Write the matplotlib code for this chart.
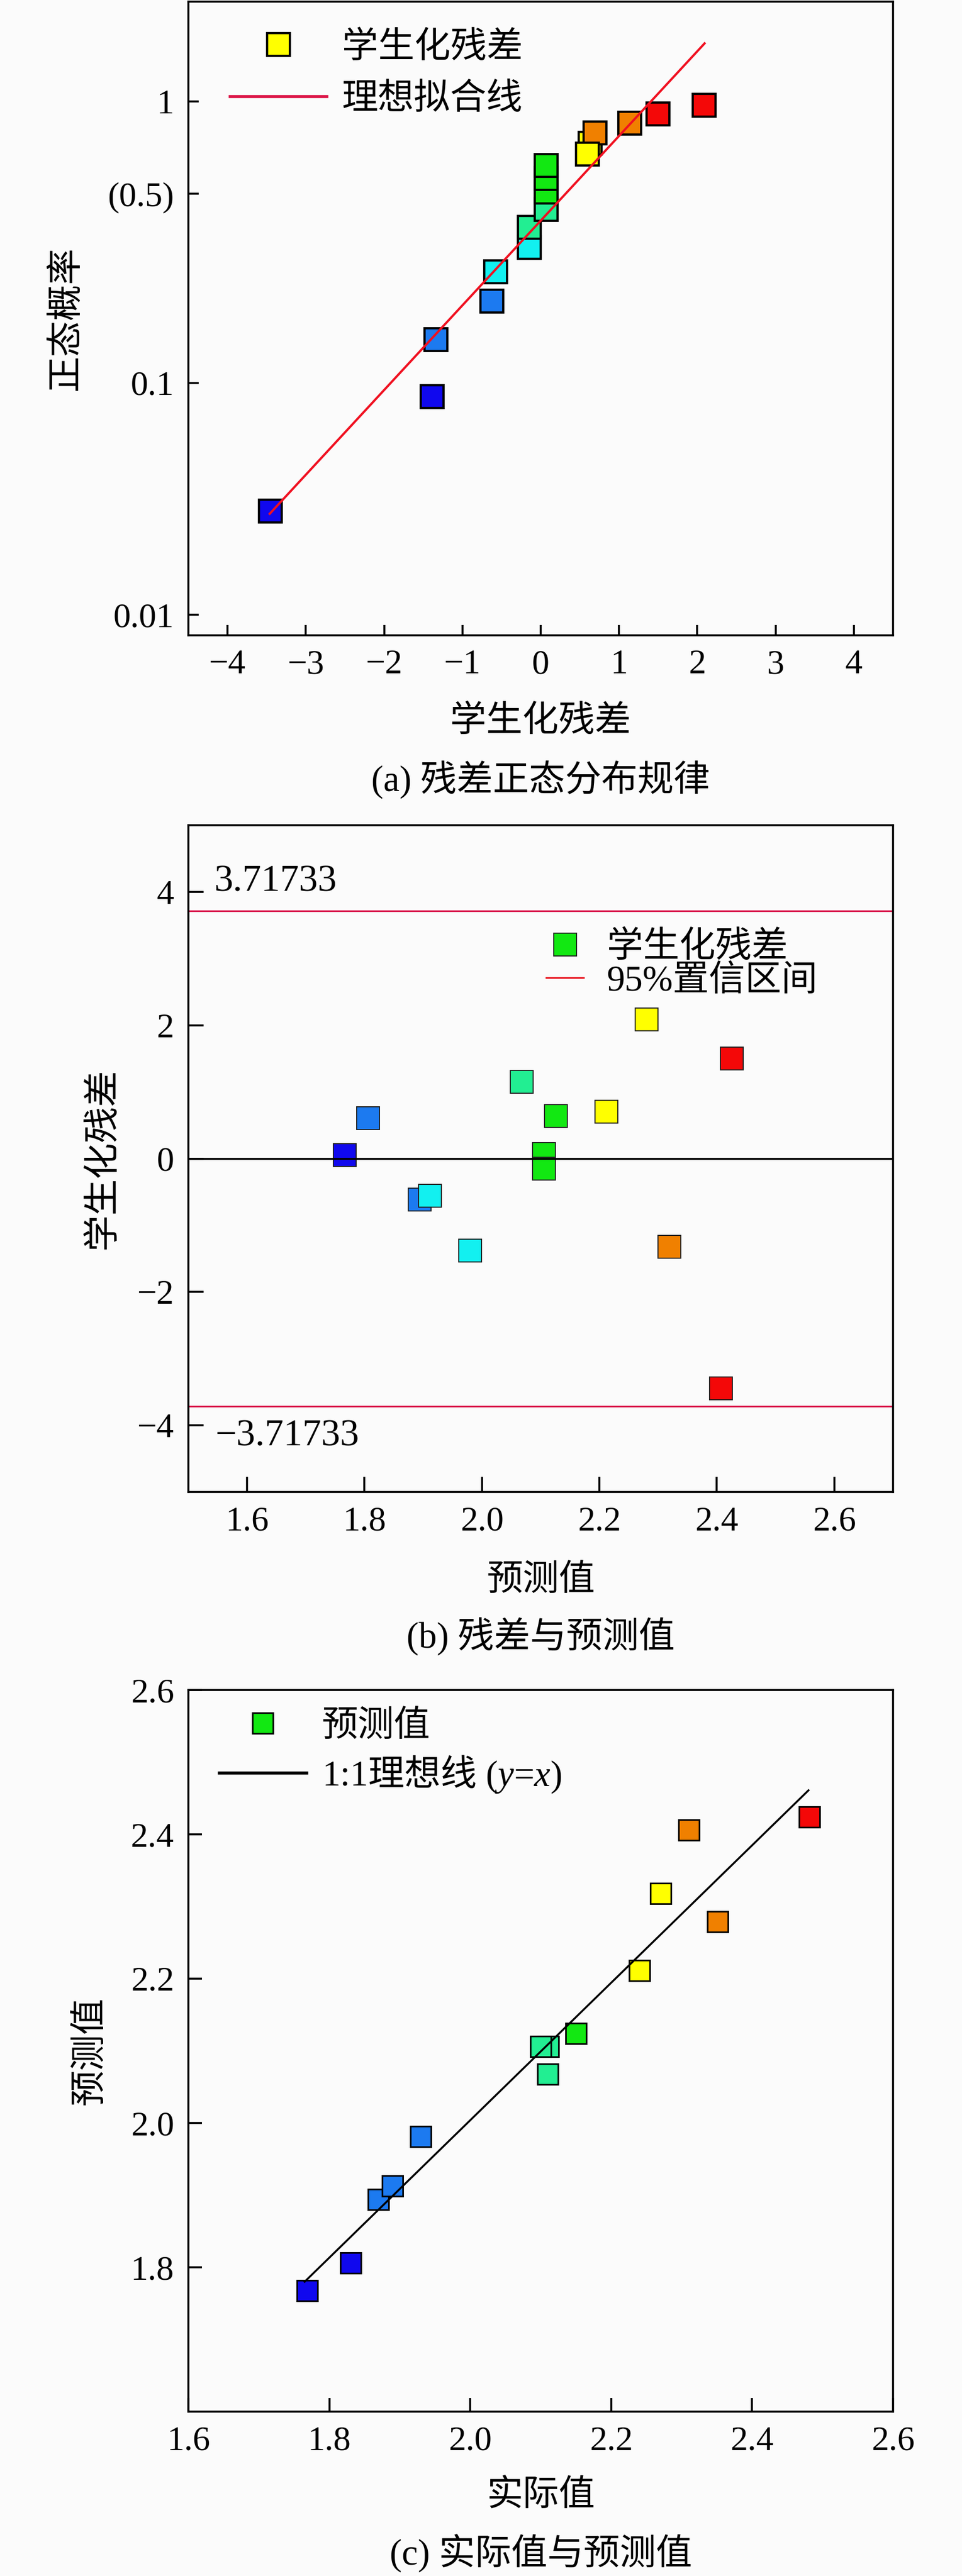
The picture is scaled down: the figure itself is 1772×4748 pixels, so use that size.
import matplotlib
matplotlib.use("Agg")
import matplotlib.pyplot as plt
from matplotlib.lines import Line2D

plt.rcParams['font.family'] = ['Liberation Serif', 'Noto Sans CJK SC']
plt.rcParams['mathtext.fontset'] = 'custom'
plt.rcParams['mathtext.it'] = 'Liberation Serif:italic'
plt.rcParams['mathtext.rm'] = 'Liberation Serif'
plt.rcParams['axes.unicode_minus'] = True

# colour palette
BLUE = '#1008ee'
AZURE = '#1c7af0'
CYAN = '#12f0f0'
TEAL = '#22ee92'
GREEN = '#12e812'
YELLOW = '#ffff00'
ORANGE = '#f08000'
RED = '#f40808'

# ==== (a) normal probability of studentized residuals ====
a_resid = [-3.454, -1.390, -1.335, -0.622, -0.573, -0.144, -0.144, 0.071, 0.071,
           0.071, 0.071, 0.632, 0.694, 0.597, 1.137, 1.497, 2.086]
a_score = [-3.429, -2.078, -1.405, -0.950, -0.604, -0.316, -0.079, 0.133, 0.338,
           0.498, 0.652, 0.914, 1.036, 0.786, 1.151, 1.260, 1.363]
a_colors = [BLUE, BLUE, AZURE, AZURE, CYAN, CYAN, TEAL, TEAL, GREEN, GREEN, GREEN,
            YELLOW, ORANGE, YELLOW, ORANGE, RED, RED]
a_fit_x = [-3.461, 2.093]
a_fit_y = [-3.461, 2.093]
a_xticks = [-4, -3, -2, -1, 0, 1, 2, 3, 4]
a_yticks = [1.407, 0.318, -1.917, -4.653]
a_yticklabels = ['1', '(0.5)', '0.1', '0.01']

# ==== (b) residual vs predicted ====
b_pred = [1.766, 1.806, 1.894, 1.911, 1.980, 2.068, 2.126, 2.106, 2.106, 2.212,
          2.280, 2.319, 2.425, 2.407]
b_resid = [0.050, 0.606, -0.614, -0.556, -1.378, 1.154, 0.639, 0.066, -0.149,
           0.705, 2.091, -1.320, 1.502, -3.444]
b_colors = [BLUE, AZURE, AZURE, CYAN, CYAN, TEAL, GREEN, GREEN, GREEN, YELLOW,
            YELLOW, ORANGE, RED, RED]
b_limit = 3.71733
b_xticks = [1.6, 1.8, 2.0, 2.2, 2.4, 2.6]
b_yticks = [-4, -2, 0, 2, 4]

# ==== (c) actual vs predicted ====
c_actual = [1.769, 1.830, 1.870, 1.890, 1.930, 2.111, 2.100, 2.110, 2.150, 2.240,
            2.270, 2.310, 2.351, 2.481]
c_pred = [1.768, 1.806, 1.894, 1.913, 1.981, 2.106, 2.106, 2.068, 2.124, 2.211,
          2.318, 2.406, 2.279, 2.424]
c_colors = [BLUE, BLUE, AZURE, AZURE, AZURE, TEAL, TEAL, TEAL, GREEN, YELLOW,
            YELLOW, ORANGE, ORANGE, RED]
c_line_x = [1.765, 2.480]
c_line_y = [1.780, 2.461]
c_xticks = [1.6, 1.8, 2.0, 2.2, 2.4, 2.6]
c_yticks = [1.8, 2.0, 2.2, 2.4, 2.6]

W, H = 1772, 4748
DPI = 200
fig = plt.figure(figsize=(W / DPI, H / DPI), dpi=DPI, facecolor='#fbfbfb')

TICK_FS = 23
CJK_FS = 24


def add_axes(left, top, right, bottom):
    return fig.add_axes([left / W, 1 - bottom / H, (right - left) / W, (bottom - top) / H])


def style(ax, ticklen):
    for sp in ax.spines.values():
        sp.set_linewidth(1.3)
        sp.set_color('black')
    ax.set_facecolor('#fbfbfb')
    ax.tick_params(direction='in', length=ticklen, width=1.3, labelsize=TICK_FS,
                   top=False, right=False, pad=9.5)


def place_labels(ax, xlab, ylab, xy, yx):
    ax.set_xlabel(xlab, fontsize=CJK_FS)
    ax.set_ylabel(ylab, fontsize=CJK_FS)
    ax.xaxis.label.set_va('center')
    ax.yaxis.label.set_va('center')
    ax.xaxis.set_label_coords(0.5, xy)
    ax.yaxis.set_label_coords(yx, 0.5)


# ---------- (a) ----------
ax1 = add_axes(347, 3, 1645, 1171)
style(ax1, 6.8)
for x, y, c in zip(a_resid, a_score, a_colors):
    ax1.plot(x, y, 's', ms=15.0, mfc=c, mec='black', mew=1.5, zorder=3)
ax1.plot(a_fit_x, a_fit_y, '-', color='#f01020', lw=1.5, zorder=4)
ax1.set_xlim(-4.5, 4.5)
ax1.set_ylim(-4.896, 2.586)
ax1.set_xticks(a_xticks)
ax1.set_yticks(a_yticks)
ax1.set_yticklabels(a_yticklabels)
place_labels(ax1, '学生化残差', '正态概率', -0.137, -0.173)
h1 = [Line2D([], [], marker='s', ls='none', ms=15.0, mfc=YELLOW, mec='black', mew=1.5),
      Line2D([], [], color='#dc1446', lw=2.0)]
ax1.legend(h1, ['学生化残差', '理想拟合线'], loc='upper left', bbox_to_anchor=(0.059, 0.953),
           frameon=False, fontsize=CJK_FS, handlelength=2.67, handletextpad=0.42,
           labelspacing=0.51, borderpad=0, borderaxespad=0)
fig.text(996 / W, 1 - 1437 / H, '(a) 残差正态分布规律', fontsize=CJK_FS,
         ha='center', va='center')

# ---------- (b) ----------
ax2 = add_axes(347, 1521, 1645, 2750)
style(ax2, 10)
for x, y, c in zip(b_pred, b_resid, b_colors):
    ax2.plot(x, y, 's', ms=15.2, mfc=c, mec='#202020', mew=0.7, zorder=3)
ax2.axhline(b_limit, color='#d81448', lw=1.1, zorder=2)
ax2.axhline(-b_limit, color='#d81448', lw=1.1, zorder=2)
ax2.axhline(0, color='black', lw=1.3, zorder=4)
ax2.text(1.544, 4.146, '%.5f' % b_limit, fontsize=25, ha='left', va='center')
ax2.text(1.546, -4.171, '\u2212%.5f' % b_limit, fontsize=25, ha='left', va='center')
ax2.set_xlim(1.5, 2.7)
ax2.set_ylim(-5, 5)
ax2.set_xticks(b_xticks)
ax2.set_xticklabels(['%.1f' % v for v in b_xticks])
ax2.set_yticks(b_yticks)
place_labels(ax2, '预测值', '学生化残差', -0.1334, -0.121)
h2 = [Line2D([], [], marker='s', ls='none', ms=15.2, mfc=GREEN, mec='#202020', mew=0.7),
      Line2D([], [], color='#e8141e', lw=1.1)]
ax2.legend(h2, ['学生化残差', '95%置信区间'], loc='upper left', bbox_to_anchor=(0.508, 0.841),
           frameon=False, fontsize=CJK_FS, handlelength=1.03, handletextpad=0.64,
           labelspacing=0.0, borderpad=0, borderaxespad=0)
fig.text(996 / W, 1 - 3016 / H, '(b) 残差与预测值', fontsize=CJK_FS,
         ha='center', va='center')

# ---------- (c) ----------
ax3 = add_axes(347, 3115, 1645, 4445)
style(ax3, 9)
for x, y, c in zip(c_actual, c_pred, c_colors):
    ax3.plot(x, y, 's', ms=14.0, mfc=c, mec='black', mew=1.1, zorder=3)
ax3.plot(c_line_x, c_line_y, '-', color='black', lw=1.3, zorder=4)
ax3.set_xlim(1.6, 2.6)
ax3.set_ylim(1.6, 2.6)
ax3.set_xticks(c_xticks)
ax3.set_xticklabels(['%.1f' % v for v in c_xticks])
ax3.set_yticks(c_yticks)
ax3.set_yticklabels(['%.1f' % v for v in c_yticks])
place_labels(ax3, '实际值', '预测值', -0.1173, -0.1387)
h3 = [Line2D([], [], marker='s', ls='none', ms=14.0, mfc=GREEN, mec='black', mew=1.1),
      Line2D([], [], color='black', lw=2.0)]
leg3 = ax3.legend(h3, ['预测值', '1:1理想线'], loc='upper left',
                  bbox_to_anchor=(0.044, 0.972), frameon=False, fontsize=CJK_FS,
                  handlelength=2.41, handletextpad=0.42, labelspacing=0.46,
                  borderpad=0, borderaxespad=0)
fig.text(996 / W, 1 - 4706 / H, '(c) 实际值与预测值', fontsize=CJK_FS,
         ha='center', va='center')

# italic (y=x) appended after the CJK legend text (mathtext cannot fall back to CJK)
fig.canvas.draw()
bb = leg3.get_texts()[1].get_window_extent()
fig.text(bb.x1 / W, (bb.y0 + bb.y1) / 2 / H, ' ($y$=$x$)', fontsize=CJK_FS,
         ha='left', va='center')

fig.savefig('out.png', dpi=DPI, facecolor=fig.get_facecolor())
